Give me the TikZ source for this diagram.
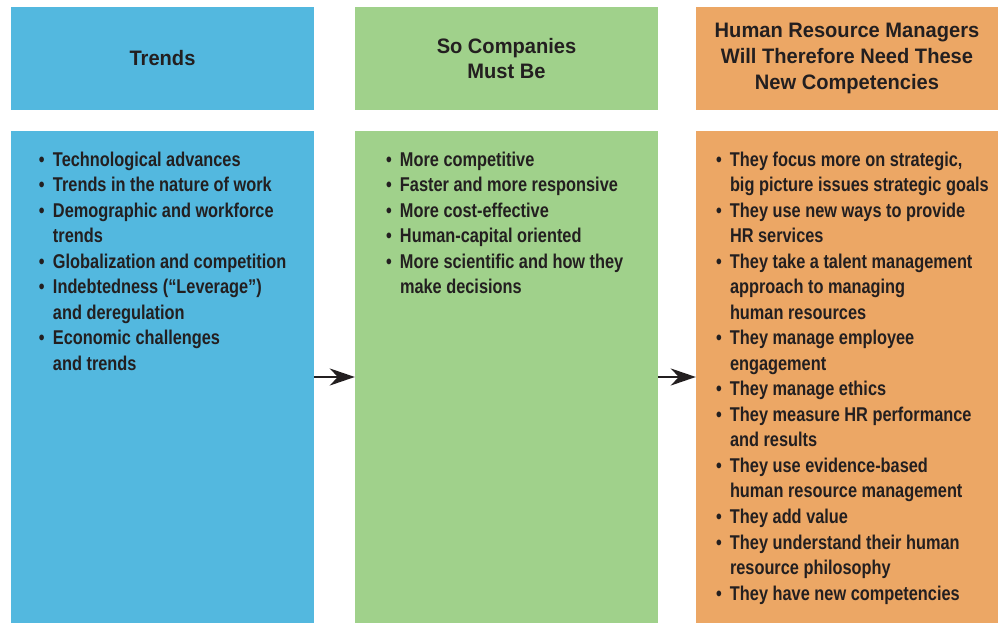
\documentclass[tikz,border=0pt]{standalone}
\usepackage{fontspec}
\setmainfont{Liberation Sans}
\newfontfamily\headfont[FakeStretch=0.96]{Liberation Sans Bold}
\newfontfamily\listfont[FakeStretch=0.82]{Liberation Sans Bold}
\usetikzlibrary{arrows.meta}

\definecolor{trendblue}{RGB}{83,184,223}
\definecolor{firmgreen}{RGB}{160,209,139}
\definecolor{hrorange}{RGB}{236,167,101}
\definecolor{inkdark}{RGB}{35,31,32}

% bullet and hanging indent for the lists
\newcommand{\bl}{\makebox[14bp][l]{\textbullet}}
\newcommand{\hg}{\hspace*{14bp}}

\tikzset{
  headbox/.style={shape=rectangle, inner sep=0pt, minimum width=303bp,
    minimum height=103bp, align=center, text=inkdark,
    font=\headfont\fontsize{21}{26}\selectfont},
  bodybox/.style={shape=rectangle, inner sep=0pt, minimum width=303bp,
    minimum height=492bp},
  listtext/.style={anchor=north west, inner sep=0pt, align=left, text=inkdark,
    font=\listfont\fontsize{20}{25.6}\selectfont},
  flow/.style={line width=2.8bp, draw=inkdark,
    -{Stealth[length=25bp, width=17bp, inset=8bp]}}
}

\begin{document}
\begin{tikzpicture}[x=1bp, y=1bp]
  \useasboundingbox (0,0) rectangle (998,623);

  % column headers
  \node (h1)[headbox, fill=trendblue] at (162.5,564.5) {Trends};
  \node (h2)[headbox, fill=firmgreen] at (506.5,564.5) {So Companies\\Must Be};
  \node (h3)[headbox, fill=hrorange, minimum width=302bp] at (847,564.5)
    {Human Resource Managers\\Will Therefore Need These\\New Competencies};

  % column bodies
  \node (b1)[bodybox, fill=trendblue] at (162.5,246) {};
  \node (b2)[bodybox, fill=firmgreen] at (506.5,246) {};
  \node (b3)[bodybox, fill=hrorange, minimum width=302bp] at (847,246) {};

  \node (l1)[listtext] at ([xshift=28bp, yshift=-21bp]b1.north west) {
    \bl Technological advances\\
    \bl Trends in the nature of work\\
    \bl Demographic and workforce\\
    \hg trends\\
    \bl Globalization and competition\\
    \bl Indebtedness (“Leverage”)\\
    \hg and deregulation\\
    \bl Economic challenges\\
    \hg and trends
  };

  \node (l2)[listtext] at ([xshift=31bp, yshift=-21bp]b2.north west) {
    \bl More competitive\\
    \bl Faster and more responsive\\
    \bl More cost-effective\\
    \bl Human-capital oriented\\
    \bl More scientific and how they\\
    \hg make decisions
  };

  \node (l3)[listtext] at ([xshift=20bp, yshift=-21bp]b3.north west) {
    \bl They focus more on strategic,\\
    \hg big picture issues strategic goals\\
    \bl They use new ways to provide\\
    \hg HR services\\
    \bl They take a talent management\\
    \hg approach to managing\\
    \hg human resources\\
    \bl They manage employee\\
    \hg engagement\\
    \bl They manage ethics\\
    \bl They measure HR performance\\
    \hg and results\\
    \bl They use evidence-based\\
    \hg human resource management\\
    \bl They add value\\
    \bl They understand their human\\
    \hg resource philosophy\\
    \bl They have new competencies
  };

  \draw[flow] (b1.east |- 0,246) -- (b2.west |- 0,246);
  \draw[flow] (b2.east |- 0,246) -- (b3.west |- 0,246);
\end{tikzpicture}
\end{document}
